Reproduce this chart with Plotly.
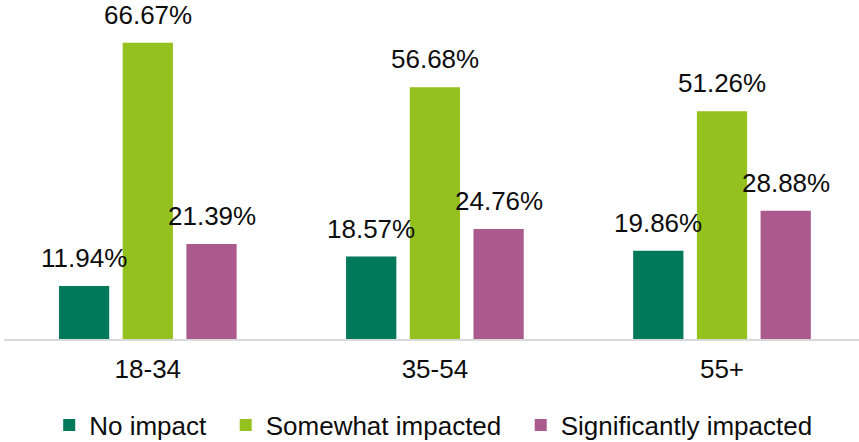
import plotly.graph_objects as go

categories = ["18-34", "35-54", "55+"]
series_names = ["No impact", "Somewhat impacted", "Significantly impacted"]
no_impact = [11.94, 18.57, 19.86]
somewhat = [66.67, 56.68, 51.26]
significant = [21.39, 24.76, 28.88]
colors = ["#00785A", "#95C11F", "#AA5A8C"]

series = [no_impact, somewhat, significant]
bar_w = 0.175
step = 0.2219
font = "Liberation Sans, Arial, sans-serif"
txt = "#0d0d0d"
pad = "\u00a0\u00a0"

fig = go.Figure()
annotations = []
for j, (name, vals, col) in enumerate(zip(series_names, series, colors)):
    xs = [i + (j - 1) * step for i in range(len(categories))]
    fig.add_trace(go.Bar(
        name=name + (pad if j < len(series_names) - 1 else ""),
        x=xs, y=vals, width=bar_w,
        marker=dict(color=col, line=dict(width=0)),
    ))
    for x, v in zip(xs, vals):
        annotations.append(dict(
            x=x, y=v, text=f"{v:.2f}%", showarrow=False,
            xref="x", yref="y", yanchor="bottom", yshift=11,
            font=dict(size=26, color=txt, family=font),
        ))

fig.update_layout(
    width=859, height=442,
    margin=dict(l=4, r=0, t=28, b=103),
    barmode="overlay",
    plot_bgcolor="white", paper_bgcolor="white",
    font=dict(family=font, size=26, color=txt),
    annotations=annotations,
    showlegend=True,
    legend=dict(orientation="h", x=0.502, xanchor="center",
                yref="container", y=1 - 425 / 442, yanchor="middle",
                font=dict(size=26, color=txt, family=font),
                traceorder="normal"),
)
fig.update_xaxes(
    range=[-0.5009, 2.4772], tickvals=list(range(len(categories))), ticktext=categories,
    showline=True, linecolor="#d9d9d9", linewidth=2, showgrid=False, zeroline=False,
    ticks="", tickfont=dict(size=26, color=txt), ticklabelstandoff=6,
)
fig.update_yaxes(range=[0, 70], visible=False, showgrid=False, zeroline=False)

fig.write_html("out.html", config={"displayModeBar": False},
               post_script="document.body.style.margin='0';")
